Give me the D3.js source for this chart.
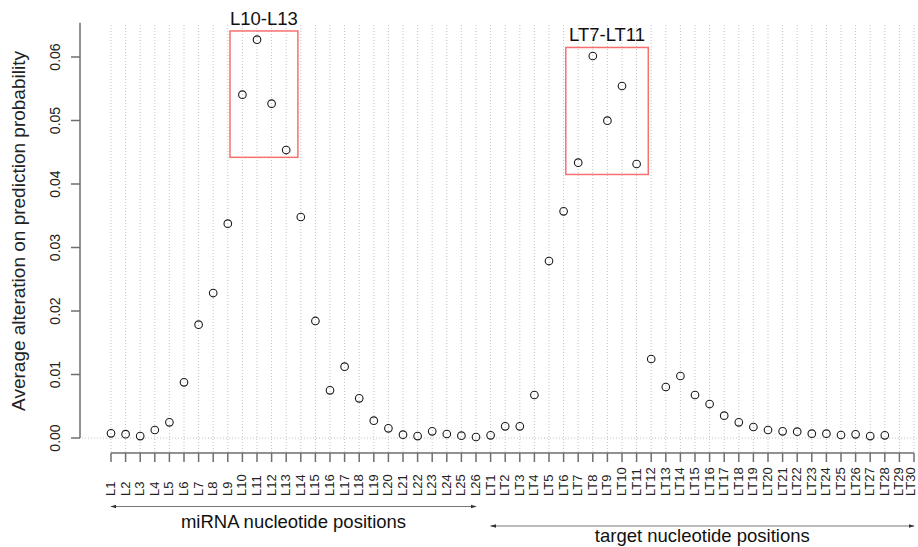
<!DOCTYPE html>
<html>
<head>
<meta charset="utf-8">
<script src="https://cdn.jsdelivr.net/npm/d3@7"></script>
<style>
  html, body { margin: 0; padding: 0; background: #fff; }
  svg { display: block; font-family: "Liberation Sans", Arial, Helvetica, sans-serif; }
</style>
</head>
<body>
<svg id="chart" width="918" height="547"></svg>
<script>
// Position labels: 26 miRNA positions followed by 30 target positions
const mirnaPositions = d3.range(1, 27).map(i => "L" + i);
const targetPositions = d3.range(1, 31).map(i => "LT" + i);
const positions = mirnaPositions.concat(targetPositions);

// Average alteration on prediction probability per position
const mirnaValues = [
  0.00074, 0.00060, 0.00030, 0.00126, 0.00247, 0.00877, 0.01785, 0.02283, 0.03375,
  0.05407, 0.06273, 0.05265, 0.04535, 0.03480, 0.01843, 0.00751, 0.01123, 0.00625,
  0.00273, 0.00152, 0.00053, 0.00030, 0.00105, 0.00063, 0.00037, 0.00016
];
const targetValues = [
  0.00042, 0.00184, 0.00184, 0.00677, 0.02787, 0.03570, 0.04336, 0.06016, 0.04997,
  0.05543, 0.04315, 0.01244, 0.00803, 0.00976, 0.00677, 0.00535, 0.00352, 0.00247,
  0.00173, 0.00126, 0.00105, 0.00100, 0.00068, 0.00068, 0.00047, 0.00058, 0.00030,
  0.00042
];

const yTicks = [0.00, 0.01, 0.02, 0.03, 0.04, 0.05, 0.06];

// Highlighted regions: label, first/last position, value extent
const regionLabels = ["L10-L13", "LT7-LT11"];
const regionStart = ["L10", "LT7"];
const regionEnd = ["L13", "LT11"];
const regionLow = [0.0442, 0.0415];
const regionHigh = [0.0641, 0.0615];

const points = mirnaPositions.map((p, i) => ({ pos: p, value: mirnaValues[i] }))
  .concat(targetValues.map((v, i) => ({ pos: targetPositions[i], value: v })));

const svg = d3.select("#chart");

const x = d3.scalePoint().domain(positions).range([111, 914]);
const y = d3.scaleLinear().domain([0, 0.06]).range([438, 57]);
const step = x.step();

const axisColor = "#6e6e6e";
const gridColor = "#c4c4c4";

// Vertical dotted grid at every position
svg.append("g").selectAll("line")
  .data(positions)
  .join("line")
  .attr("x1", d => x(d)).attr("x2", d => x(d))
  .attr("y1", 25).attr("y2", 452)
  .attr("stroke", gridColor).attr("stroke-width", 1)
  .attr("stroke-dasharray", "1,2");

// Dotted baseline at zero
svg.append("line")
  .attr("x1", 82).attr("x2", 918)
  .attr("y1", y(0)).attr("y2", y(0))
  .attr("stroke", gridColor).attr("stroke-width", 1)
  .attr("stroke-dasharray", "1,2");

// Y axis
const yAxis = svg.append("g");
yAxis.append("line")
  .attr("x1", 80).attr("x2", 80)
  .attr("y1", y(0)).attr("y2", y(0.0654))
  .attr("stroke", axisColor).attr("stroke-width", 1.5);
yAxis.selectAll("line.tick")
  .data(yTicks)
  .join("line")
  .attr("class", "tick")
  .attr("x1", 71).attr("x2", 80)
  .attr("y1", d => y(d)).attr("y2", d => y(d))
  .attr("stroke", axisColor).attr("stroke-width", 1.5);
yAxis.selectAll("text")
  .data(yTicks)
  .join("text")
  .attr("transform", d => `translate(60,${y(d)}) rotate(-90)`)
  .attr("text-anchor", "middle")
  .attr("font-size", 14)
  .attr("fill", "#222")
  .text(d => d3.format(".2f")(d));

// X axis
const xAxis = svg.append("g");
xAxis.append("line")
  .attr("x1", x(positions[0])).attr("x2", x(positions[positions.length - 1]))
  .attr("y1", 453).attr("y2", 453)
  .attr("stroke", axisColor).attr("stroke-width", 1.5);
xAxis.selectAll("line.tick")
  .data(positions)
  .join("line")
  .attr("class", "tick")
  .attr("x1", d => x(d)).attr("x2", d => x(d))
  .attr("y1", 453).attr("y2", 462)
  .attr("stroke", axisColor).attr("stroke-width", 1.5);
// Rotated labels; the last one is kept inside the right edge
xAxis.selectAll("text")
  .data(positions)
  .join("text")
  .attr("transform", d => `translate(${Math.min(x(d) + 4, 914.5)},496) rotate(-90)`)
  .attr("text-anchor", "start")
  .attr("font-size", 13)
  .attr("fill", "#222")
  .text(d => d);

// Y axis title
svg.append("text")
  .attr("transform", "translate(25,231) rotate(-90)")
  .attr("text-anchor", "middle")
  .attr("font-size", 19)
  .attr("fill", "#222")
  .text("Average alteration on prediction probability");

// Highlight boxes and their labels
regionLabels.forEach((label, i) => {
  const x0 = x(regionStart[i]) - 0.85 * step;
  const x1 = x(regionEnd[i]) + 0.8 * step;
  svg.append("rect")
    .attr("x", x0).attr("y", y(regionHigh[i]))
    .attr("width", x1 - x0).attr("height", y(regionLow[i]) - y(regionHigh[i]))
    .attr("fill", "none").attr("stroke", "#f77070").attr("stroke-width", 1.5);
  svg.append("text")
    .attr("x", (x0 + x1) / 2).attr("y", y(regionHigh[i]) - 6)
    .attr("text-anchor", "middle")
    .attr("font-size", 18.5)
    .attr("fill", "#111")
    .text(label);
});

// Points
svg.append("g").selectAll("circle")
  .data(points)
  .join("circle")
  .attr("cx", d => x(d.pos))
  .attr("cy", d => y(d.value))
  .attr("r", 3.8)
  .attr("fill", "none")
  .attr("stroke", "#1a1a1a")
  .attr("stroke-width", 1.1);

// Region arrows below the axis
const defs = svg.append("defs");
defs.append("marker")
  .attr("id", "arrowhead")
  .attr("viewBox", "0 0 10 10")
  .attr("refX", 9).attr("refY", 5)
  .attr("markerWidth", 6).attr("markerHeight", 6)
  .attr("markerUnits", "userSpaceOnUse")
  .attr("orient", "auto-start-reverse")
  .append("path")
  .attr("d", "M0,2 L10,5 L0,8 Z")
  .attr("fill", "#333");

const spans = [
  { label: "miRNA nucleotide positions", from: x("L1"), to: x("L26"), yLine: 506.5, yText: 528 },
  { label: "target nucleotide positions", from: x("LT1"), to: x("LT30"), yLine: 526, yText: 542 }
];
spans.forEach(s => {
  svg.append("line")
    .attr("x1", s.from).attr("x2", s.to)
    .attr("y1", s.yLine).attr("y2", s.yLine)
    .attr("stroke", "#777").attr("stroke-width", 1)
    .attr("marker-start", "url(#arrowhead)")
    .attr("marker-end", "url(#arrowhead)");
  svg.append("text")
    .attr("x", (s.from + s.to) / 2).attr("y", s.yText)
    .attr("text-anchor", "middle")
    .attr("font-size", 18.5)
    .attr("fill", "#111")
    .text(s.label);
});
</script>
</body>
</html>
